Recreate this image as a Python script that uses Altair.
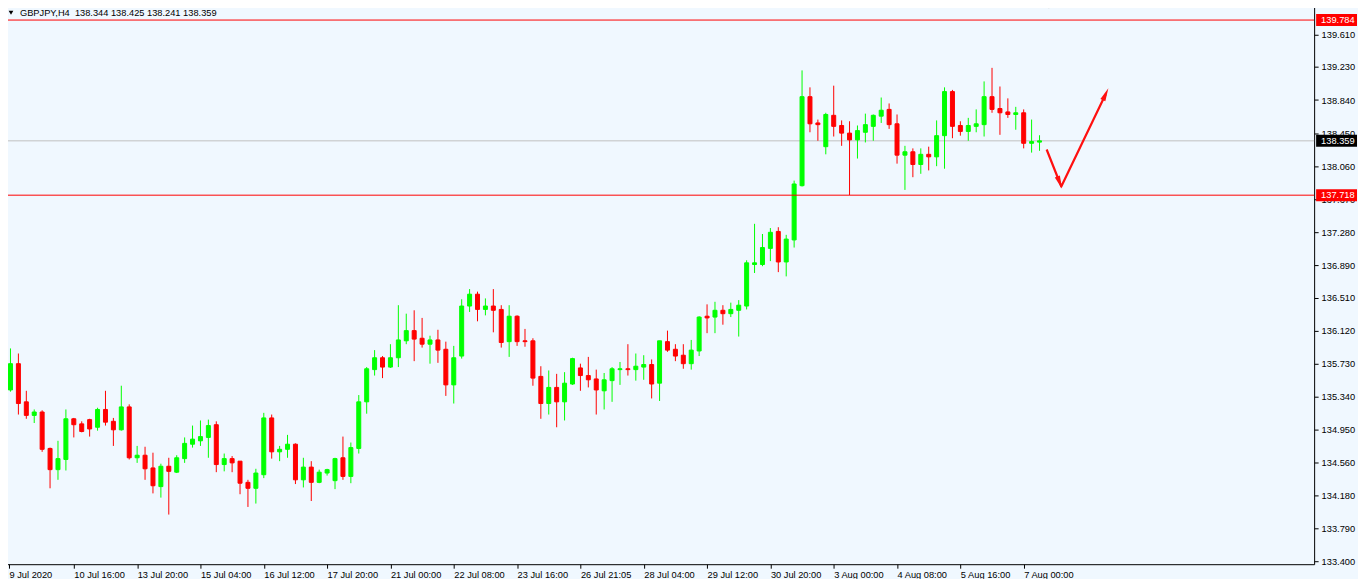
import altair as alt
import pandas as pd

FONT = "Liberation Sans"
FS = 9.3
BG = "#F0F8FF"
UP, DOWN = "#00FF00", "#FF0000"

# ---- candle data (GBPJPY H4) ----
opens = [135.42, 135.73, 135.28, 135.12, 135.16, 134.73, 134.48, 134.60, 135.08, 135.02,
         135.07, 134.98, 135.19, 135.05, 134.95, 135.22, 134.62, 134.65, 134.50, 134.28,
         134.52, 134.45, 134.61, 134.78, 134.82, 134.86, 135.01, 134.54, 134.61, 134.58,
         134.33, 134.26, 134.42, 135.09, 134.69, 134.72, 134.78, 134.36, 134.51, 134.33,
         134.44, 134.35, 134.62, 134.40, 134.73, 135.28, 135.66, 135.80, 135.69, 135.80,
         136.00, 136.12, 136.03, 135.96, 136.01, 135.90, 135.48, 135.82, 136.41, 136.55,
         136.37, 136.41, 136.37, 135.99, 136.29, 136.00, 136.00, 135.58, 135.26, 135.45,
         135.28, 135.49, 135.68, 135.59, 135.55, 135.41, 135.53, 135.66, 135.67, 135.66,
         135.69, 135.72, 135.50, 135.99, 135.90, 135.83, 135.73, 135.88, 136.29, 136.28,
         136.36, 136.32, 136.36, 136.41, 136.90, 136.90, 137.09, 137.29, 136.93, 137.19,
         137.83, 138.88, 138.57, 138.29, 138.66, 138.54, 138.45, 138.37, 138.46, 138.53,
         138.65, 138.73, 138.56, 138.19, 138.23, 138.08, 138.20, 138.17, 138.42, 138.94,
         138.54, 138.47, 138.53, 138.55, 138.88, 138.74, 138.70, 138.67, 138.69, 138.33,
         138.344]
highs = [135.91, 135.85, 135.41, 135.19, 135.18, 134.74, 134.82, 135.19, 135.09, 135.05,
         135.08, 135.21, 135.41, 135.09, 135.47, 135.25, 134.76, 134.75, 134.68, 134.55,
         134.62, 134.65, 134.86, 135.00, 135.06, 135.07, 135.05, 134.67, 134.64, 134.58,
         134.36, 134.49, 135.15, 135.13, 134.76, 134.89, 134.79, 134.62, 134.58, 134.48,
         134.49, 134.62, 134.87, 134.80, 135.36, 135.69, 135.89, 135.82, 135.96, 136.42,
         136.32, 136.36, 136.27, 136.06, 136.13, 135.99, 135.94, 136.49, 136.61, 136.58,
         136.50, 136.61, 136.42, 136.42, 136.30, 136.14, 136.03, 135.70, 135.65, 135.61,
         135.63, 135.80, 135.73, 135.81, 135.66, 135.62, 135.69, 135.75, 135.96, 135.85,
         135.83, 135.78, 136.00, 136.12, 135.96, 135.96, 136.01, 136.29, 136.43, 136.46,
         136.42, 136.45, 136.48, 136.95, 137.38, 137.26, 137.33, 137.34, 137.25, 137.89,
         139.19, 138.99, 138.61, 138.69, 139.01, 138.60, 138.59, 138.54, 138.68, 138.67,
         138.87, 138.80, 138.67, 138.30, 138.27, 138.27, 138.29, 138.60, 138.99, 138.96,
         138.59, 138.63, 138.73, 139.06, 139.22, 139.00, 138.86, 138.76, 138.73, 138.61,
         138.425]
lows = [135.40, 135.13, 135.08, 135.03, 134.69, 134.26, 134.36, 134.47, 134.86, 134.92,
        134.87, 134.94, 135.00, 134.76, 134.94, 134.60, 134.56, 134.36, 134.20, 134.15,
        133.95, 134.44, 134.56, 134.74, 134.76, 134.62, 134.45, 134.46, 134.45, 134.19,
        134.04, 134.08, 134.38, 134.61, 134.58, 134.62, 134.31, 134.27, 134.11, 134.32,
        134.41, 134.25, 134.36, 134.32, 134.67, 135.14, 135.59, 135.56, 135.68, 135.69,
        135.96, 135.76, 135.92, 135.73, 135.74, 135.35, 135.26, 135.79, 136.34, 136.23,
        136.30, 136.10, 135.92, 135.81, 135.94, 135.93, 135.47, 135.08, 135.13, 134.98,
        135.06, 135.48, 135.41, 135.45, 135.13, 135.19, 135.28, 135.48, 135.59, 135.53,
        135.54, 135.32, 135.29, 135.87, 135.76, 135.67, 135.66, 135.82, 136.09, 136.09,
        136.19, 136.28, 136.05, 136.37, 136.80, 136.88, 136.94, 136.81, 136.76, 137.10,
        137.82, 138.46, 138.36, 138.20, 138.41, 138.30, 137.72, 138.15, 138.34, 138.36,
        138.57, 138.50, 138.09, 137.78, 137.93, 137.97, 138.01, 138.06, 138.03, 138.39,
        138.42, 138.36, 138.46, 138.41, 138.69, 138.43, 138.63, 138.49, 138.27, 138.22,
        138.241]
closes = [135.73, 135.26, 135.12, 135.16, 134.72, 134.48, 134.61, 135.08, 135.01, 134.93,
          134.96, 135.19, 135.04, 134.95, 135.22, 134.62, 134.65, 134.49, 134.29, 134.52,
          134.46, 134.62, 134.79, 134.84, 134.87, 135.00, 134.54, 134.61, 134.56, 134.32,
          134.26, 134.44, 135.09, 134.69, 134.72, 134.78, 134.36, 134.51, 134.33, 134.45,
          134.48, 134.61, 134.40, 134.74, 135.28, 135.67, 135.80, 135.69, 135.80, 136.01,
          136.12, 136.02, 135.96, 136.01, 135.89, 135.48, 135.80, 136.41, 136.55, 136.37,
          136.41, 136.36, 135.98, 136.29, 135.99, 135.99, 135.56, 135.26, 135.45, 135.28,
          135.50, 135.79, 135.59, 135.54, 135.42, 135.54, 135.67, 135.67, 135.66, 135.70,
          135.72, 135.49, 136.00, 135.89, 135.82, 135.73, 135.89, 136.28, 136.27, 136.36,
          136.32, 136.37, 136.42, 136.92, 136.92, 137.10, 137.28, 136.93, 137.20, 137.85,
          138.88, 138.56, 138.55, 138.67, 138.53, 138.45, 138.37, 138.48, 138.55, 138.66,
          138.72, 138.55, 138.19, 138.23, 138.08, 138.20, 138.17, 138.42, 138.94, 138.53,
          138.47, 138.54, 138.56, 138.88, 138.73, 138.69, 138.67, 138.69, 138.33, 138.35,
          138.359]
index = list(range(len(opens)))

# ---- axis labels ----
xtick_idx = [8, 16, 24, 32, 40, 48, 56, 64, 72, 80, 88, 96, 104, 112, 120, 128]
xtick_lbl = ["10 Jul 16:00", "13 Jul 20:00", "15 Jul 04:00", "16 Jul 12:00",
             "17 Jul 20:00", "21 Jul 00:00", "22 Jul 08:00", "23 Jul 16:00",
             "26 Jul 21:05", "28 Jul 04:00", "29 Jul 12:00", "30 Jul 20:00",
             "3 Aug 00:00", "4 Aug 08:00", "5 Aug 16:00", "7 Aug 00:00"]
first_label = "9 Jul 2020"
ytick_vals = [133.40, 133.79, 134.18, 134.56, 134.95, 135.34, 135.73, 136.12, 136.51,
              136.89, 137.28, 137.67, 138.06, 138.45, 138.84, 139.23, 139.61]

# ---- lines, tags and hand-drawn arrow ----
bid_price = 138.359
level_prices = [139.784, 137.718]
tag_prices = [139.784, 138.359, 137.718]
tag_colors = ["#FF0000", "#000000", "#FF0000"]
arrow_idx = [130.9, 132.75, 138.35]
arrow_price = [138.257, 137.82, 138.909]
head_idx = [132.55, 138.35]
head_price = [137.866, 138.909]
head_angle = [158.4, 24.9]
header = "GBPJPY,H4\u00a0 138.344 138.425 138.241 138.359"
ARROW_HEAD = "M0,-1L0.42,1L-0.42,1Z"

candles = pd.DataFrame(dict(i=index, open=opens, high=highs, low=lows, close=closes))
candles["dir"] = ["up" if c >= o else "down" for o, c in zip(opens, closes)]


def build(W, H, pad):
    x0 = -0.1875
    xscale = alt.Scale(domain=[x0, x0 + W / 8.0], nice=False, zero=False)
    yscale = alt.Scale(domain=[133.3645, 139.975], nice=False, zero=False)
    cscale = alt.Scale(domain=["up", "down"], range=[UP, DOWN])

    expr = "".join(f"datum.value == {v} ? '{t}' : " for v, t in zip(xtick_idx, xtick_lbl))
    expr += f"datum.value < 0 ? '{first_label}' : ''"

    xax = alt.Axis(values=[x0] + xtick_idx, labelExpr=expr, orient="bottom", title=None,
                   domain=False, grid=False, ticks=True, tickSize=4, tickColor="black",
                   labelAlign="left", labelBaseline="alphabetic", labelPadding=9,
                   labelFont=FONT, labelFontSize=FS, labelColor="black",
                   labelFlush=False, labelOverlap=False)
    yax = alt.Axis(values=ytick_vals, format=".3f", orient="right", title=None,
                   domain=False, grid=False, ticks=True, tickSize=4, tickColor="black",
                   labelAlign="left", labelBaseline="middle", labelPadding=3,
                   labelFont=FONT, labelFontSize=FS, labelColor="black",
                   labelFlush=False, labelOverlap=False)

    X = lambda f: alt.X(f, scale=xscale, axis=xax)
    Y = lambda f: alt.Y(f, scale=yscale, axis=yax)

    bid = alt.Chart(pd.DataFrame({"p": [bid_price]})).mark_rule(
        color="#C0C0C0", strokeWidth=1).encode(y=Y("p:Q"))
    wick = alt.Chart(candles).mark_rule(strokeWidth=1).encode(
        x=X("i:Q"), y=Y("low:Q"), y2="high:Q",
        color=alt.Color("dir:N", scale=cscale, legend=None))
    body = alt.Chart(candles).mark_bar(size=4, strokeWidth=1, opacity=1).encode(
        x=X("i:Q"), y=Y("open:Q"), y2="close:Q",
        fill=alt.Fill("dir:N", scale=cscale, legend=None),
        stroke=alt.Stroke("dir:N", scale=cscale, legend=None))
    levels = alt.Chart(pd.DataFrame({"p": level_prices})).mark_rule(
        color="#FF0000", strokeWidth=1).encode(y=Y("p:Q"))
    arrow = alt.Chart(pd.DataFrame({"i": arrow_idx, "p": arrow_price})).mark_line(
        color="#FF1010", strokeWidth=2.2, strokeJoin="round").encode(x=X("i:Q"), y=Y("p:Q"))
    heads = alt.Chart(pd.DataFrame({"i": head_idx, "p": head_price, "a": head_angle})).mark_point(
        shape=ARROW_HEAD, filled=True, opacity=1, size=169, color="#FF1010").encode(
        x=X("i:Q"), y=Y("p:Q"), angle=alt.Angle("a:Q", scale=None))
    tags = pd.DataFrame({"p": tag_prices, "c": tag_colors})
    tagbox = alt.Chart(tags).mark_tick(orient="horizontal", size=41, thickness=12, opacity=1).encode(
        y=Y("p:Q"), x=alt.value(W + 22.5), color=alt.Color("c:N", scale=None))
    tagtext = alt.Chart(tags).mark_text(align="left", baseline="middle", font=FONT,
                                        fontSize=FS, color="white").encode(
        y=Y("p:Q"), x=alt.value(W + 7), text=alt.Text("p:Q", format=".3f"))
    head_txt = alt.Chart(pd.DataFrame({"t": [header]})).mark_text(
        align="left", baseline="middle", font=FONT, fontSize=FS, color="black").encode(
        x=alt.value(16), y=alt.value(9), text="t:N")
    head_tri = alt.Chart(pd.DataFrame({"k": [0]})).mark_point(
        shape="triangle-down", filled=True, opacity=1, size=22, color="black").encode(
        x=alt.value(7), y=alt.value(9))
    shift_tri = alt.Chart(pd.DataFrame({"k": [0]})).mark_point(
        shape="triangle-down", filled=True, opacity=1, size=40, color="#A8A8A8").encode(
        x=alt.value(1048), y=alt.value(2))

    return alt.layer(bid, wick, body, levels, arrow, heads, tagbox, tagtext,
                     head_txt, head_tri, shift_tri).properties(
        width=W, height=H, padding=pad, background=BG,
        autosize=alt.AutoSizeParams(type="none")
    ).configure_view(stroke="black", strokeWidth=1, fill=BG)


try:
    chart = build(1314, 562, {"left": -4, "top": -5, "right": 44, "bottom": 14})
    chart.to_dict()
except Exception:
    chart = build(1310, 556, {"left": 0, "top": 0, "right": 40, "bottom": 15})

chart.save("out.html", embed_options={"renderer": "svg", "actions": False})
